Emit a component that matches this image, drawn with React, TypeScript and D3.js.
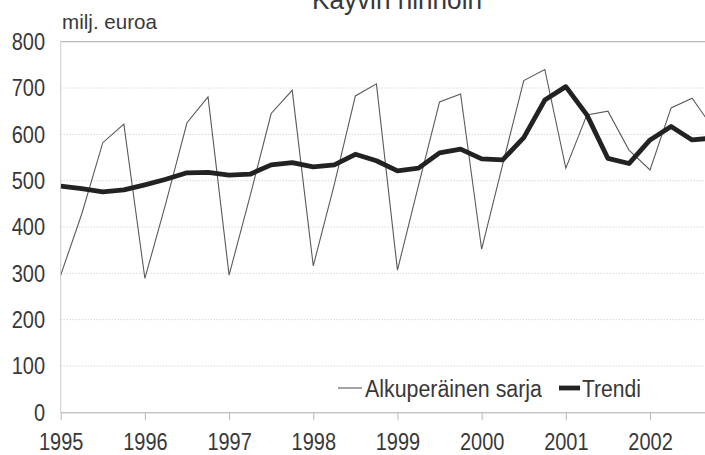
import * as d3 from 'd3';
import React, { useRef, useEffect } from 'react';

// quarterly values, 1995Q1 .. 2002Q4 (milj. euroa)
const years = [1995, 1996, 1997, 1998, 1999, 2000, 2001, 2002];
const original = [
  296, 428, 582, 622, 289, 452, 625, 681,
  296, 467, 645, 695, 316, 492, 683, 709,
  307, 490, 670, 687, 352, 535, 716, 740,
  527, 642, 650, 566, 523, 657, 678, 613,
];
const trend = [
  488, 483, 476, 480, 491, 503, 517, 518,
  512, 514, 534, 539, 530, 534, 557, 543,
  521, 527, 560, 568, 547, 545, 593, 674,
  703, 642, 548, 537, 588, 617, 588, 592,
];
const yTicks = [0, 100, 200, 300, 400, 500, 600, 700, 800];

const title = 'Käyvin hinnoin';
const unit = 'milj. euroa';
const seriesNames = ['Alkuperäinen sarja', 'Trendi'];

function App(): any {
  const ref = useRef(null);
  const width = 705;
  const height = 455;
  const margin = { top: 41.7, left: 60.7, bottom: 42.7 };
  const font = "'Liberation Sans', Arial, Helvetica, sans-serif";
  const digitW = 11.1; // the source font is a bit narrow and tall

  useEffect(() => {
    const svg = d3.select(ref.current);
    svg.selectAll('*').remove();

    const x = d3
      .scaleLinear()
      .domain([1995, 2003])
      .range([margin.left, margin.left + 8 * 84.19]);

    const y = d3
      .scaleLinear()
      .domain([0, 800])
      .range([height - margin.bottom, margin.top]);

    const qx = (i: number) => x(1995 + i * 0.25);

    // gridlines
    svg.append('g')
      .selectAll('line')
      .data(yTicks.filter((t) => t > 0 && t < 800))
      .enter()
      .append('line')
      .attr('x1', margin.left)
      .attr('x2', width)
      .attr('y1', (d: any) => y(d))
      .attr('y2', (d: any) => y(d))
      .attr('stroke', '#c4c4c4')
      .attr('stroke-width', 1)
      .attr('stroke-dasharray', '1,2');

    // frame top and y-axis
    svg.append('line')
      .attr('x1', margin.left).attr('x2', width)
      .attr('y1', y(800)).attr('y2', y(800))
      .attr('stroke', '#a8a8a8');
    svg.append('line')
      .attr('x1', margin.left).attr('x2', margin.left)
      .attr('y1', y(800)).attr('y2', y(0))
      .attr('stroke', '#cccccc');

    // x axis
    const xAxis = svg.append('g')
      .attr('transform', 'translate(0,' + y(0) + ')')
      .call(
        d3.axisBottom(x)
          .tickValues(years)
          .tickFormat(d3.format('d'))
          .tickSize(8)
          .tickPadding(13)
      );
    xAxis.select('.domain').attr('stroke', '#a8a8a8').attr('d', 'M' + margin.left + ',0.5H' + width);
    xAxis.selectAll('.tick line').attr('stroke', '#b8b8b8');
    xAxis.selectAll('text')
      .attr('fill', '#383838')
      .attr('textLength', (d: any) => String(d).length * digitW)
      .attr('lengthAdjust', 'spacingAndGlyphs')
      .style('font-family', font)
      .style('font-size', '23px');

    // y labels
    svg.append('g')
      .selectAll('text')
      .data(yTicks)
      .enter()
      .append('text')
      .attr('x', 45)
      .attr('y', (d: any) => y(d))
      .attr('dy', '0.36em')
      .attr('text-anchor', 'end')
      .attr('fill', '#383838')
      .attr('textLength', (d: any) => String(d).length * digitW)
      .attr('lengthAdjust', 'spacingAndGlyphs')
      .style('font-family', font)
      .style('font-size', '23px')
      .text((d: any) => d);

    const clipId = 'plot-clip';
    svg.append('clipPath').attr('id', clipId)
      .append('rect')
      .attr('x', margin.left).attr('y', 0)
      .attr('width', width - margin.left).attr('height', height);

    const line = d3.line<number>()
      .x((_d, i) => qx(i))
      .y((d) => y(d));

    svg.append('path')
      .datum(original)
      .attr('clip-path', 'url(#' + clipId + ')')
      .attr('d', line)
      .attr('fill', 'none')
      .attr('stroke', '#5a5a5a')
      .attr('stroke-width', 1.1);

    svg.append('path')
      .datum(trend)
      .attr('clip-path', 'url(#' + clipId + ')')
      .attr('d', line)
      .attr('fill', 'none')
      .attr('stroke', '#222')
      .attr('stroke-width', 4.8)
      .attr('stroke-linejoin', 'round');

    // legend
    const legend = svg.append('g');
    legend.append('line')
      .attr('x1', 338).attr('x2', 362).attr('y1', 388).attr('y2', 388)
      .attr('stroke', '#5a5a5a').attr('stroke-width', 1.1);
    legend.append('text')
      .attr('x', 365).attr('y', 397)
      .attr('fill', '#383838')
      .attr('textLength', 177)
      .attr('lengthAdjust', 'spacingAndGlyphs')
      .style('font-family', font).style('font-size', '23.5px')
      .text(seriesNames[0]);
    legend.append('line')
      .attr('x1', 559).attr('x2', 580).attr('y1', 388).attr('y2', 388)
      .attr('stroke', '#222').attr('stroke-width', 4.8);
    legend.append('text')
      .attr('x', 582).attr('y', 397)
      .attr('fill', '#383838')
      .attr('textLength', 59)
      .attr('lengthAdjust', 'spacingAndGlyphs')
      .style('font-family', font).style('font-size', '23.5px')
      .text(seriesNames[1]);

    // unit and title (the title is cut by the top edge, as in the source)
    svg.append('text')
      .attr('x', 62).attr('y', 29)
      .attr('fill', '#383838')
      .attr('textLength', 95)
      .attr('lengthAdjust', 'spacingAndGlyphs')
      .style('font-family', font).style('font-size', '21px')
      .text(unit);
    svg.append('text')
      .attr('x', 397).attr('y', 9)
      .attr('text-anchor', 'middle')
      .attr('fill', '#383838')
      .attr('textLength', 170)
      .attr('lengthAdjust', 'spacingAndGlyphs')
      .style('font-family', font).style('font-size', '28px')
      .text(title);
  }, []);

  return (
    <svg
      ref={ref}
      width={width}
      height={height}
      style={{ position: 'absolute', left: 0, top: 0, background: '#fff' }}
    />
  );
}

export default App;
